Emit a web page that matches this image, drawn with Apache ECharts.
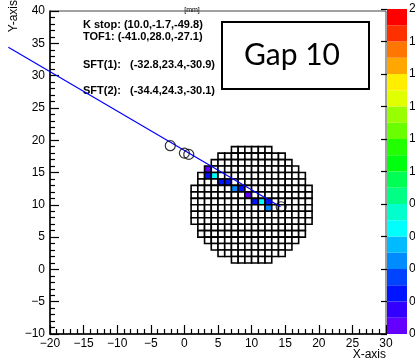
<!DOCTYPE html>
<html>
<head>
<meta charset="utf-8">
<script src="https://cdn.jsdelivr.net/npm/echarts@6/dist/echarts.min.js"></script>
<style>
  html, body { margin: 0; padding: 0; background: #fff; }
  #chart { width: 415px; height: 361px; }
</style>
</head>
<body>
<div id="chart"></div>
<script>
// number of bars in each target row, top row first (256 bars)
var rowCounts = [6, 10, 12, 14, 16, 16, 18, 18, 18, 18, 18, 18, 16, 16, 14, 12, 10, 6];
// hit bars: [column from left, row from top, energy]
var hitBars = [
  [2, 3, 0.05],
  [2, 4, 0.25], [3, 4, 0.65],
  [4, 5, 0.25], [5, 5, 0.25],
  [6, 6, 0.45], [7, 6, 0.25],
  [8, 7, 0.05],
  [9, 8, 0.25], [10, 8, 0.65], [11, 8, 0.25],
  [11, 9, 0.45]
];
// fitted track
var trackLine = [[-26.2, 34.4], [14.3, 9.7]];
// SFT / TOF / K stop markers
var markerPoints = [[-2.1, 19.15], [0.0, 18.0], [0.65, 17.8], [14.4, 9.7]];
// colour scale
var levels = [0, 0.1, 0.2, 0.3, 0.4, 0.5, 0.6, 0.7, 0.8, 0.9, 1.0, 1.1, 1.2, 1.3, 1.4, 1.5, 1.6, 1.7, 1.8, 1.9, 2.0];
var levelColors = ['#6300ff', '#3300ff', '#0014ff', '#0044ff', '#008bff', '#00bbff', '#00fffc', '#00ffcc', '#00ff85', '#00ff55',
                   '#00ff0e', '#22ff00', '#69ff00', '#99ff00', '#e0ff00', '#ffee00', '#ffa700', '#ff7700', '#ff3000', '#ff0000'];

var nCols = 18;
var cells = [];
rowCounts.forEach(function (n, r) {
  var first = (nCols - n) / 2;
  for (var c = first; c < first + n; c++) {
    var e = -1;
    hitBars.forEach(function (h) { if (h[0] === c && h[1] === r) e = h[2]; });
    // lower-left corner of bar in plot units
    cells.push([1 + c, 18 - r, e]);
  }
});
var bands = [];
for (var i = 0; i < levelColors.length; i++) bands.push([levels[i], levels[i + 1]]);

var pieces = bands.map(function (b, i) { return { gte: b[0], lt: b[1], color: levelColors[i] }; });

function minus(v) { return String(v).replace('-', '\u2212'); }

var font = 'Liberation Sans, Arial, sans-serif';
var myChart = echarts.init(document.getElementById('chart'));
var option = {
  animation: false,
  backgroundColor: '#fff',
  textStyle: { fontFamily: font },
  visualMap: {
    show: false,
    type: 'piecewise',
    seriesIndex: 0,
    dimension: 2,
    pieces: pieces,
    outOfRange: { color: '#ffffff' }
  },
  grid: [
    { left: 50, top: 11, width: 336, height: 323, show: true, borderColor: '#444', borderWidth: 1, containLabel: false, outerBoundsMode: 'none' },
    { left: 387, top: 9, width: 20, height: 325, containLabel: false, outerBoundsMode: 'none' }
  ],
  xAxis: [
    {
      gridIndex: 0, type: 'value', min: -20, max: 30, interval: 5,
      axisLine: { onZero: false, lineStyle: { color: '#000', width: 1.5 } },
      axisTick: { inside: true, length: 9, lineStyle: { color: '#000', width: 1.2 } },
      minorTick: { show: true, splitNumber: 5, length: 5, lineStyle: { color: '#000', width: 1.2 } },
      splitLine: { show: false },
      axisLabel: { color: '#000', fontSize: 12, margin: 4, formatter: minus }
    },
    { gridIndex: 1, type: 'value', min: 0, max: 1, show: false }
  ],
  yAxis: [
    {
      gridIndex: 0, type: 'value', min: -10, max: 40, interval: 5,
      axisLine: { onZero: false, lineStyle: { color: '#000', width: 1.5 } },
      axisTick: { inside: true, length: 9, lineStyle: { color: '#000', width: 1.2 } },
      minorTick: { show: true, splitNumber: 5, length: 5, lineStyle: { color: '#000', width: 1.2 } },
      splitLine: { show: false },
      axisLabel: { color: '#000', fontSize: 12, margin: 5, formatter: minus }
    },
    {
      gridIndex: 1, type: 'value', min: 0, max: 2, interval: 0.2, position: 'right',
      axisLine: { show: false },
      axisTick: { inside: true, length: 6, lineStyle: { color: '#000', width: 1.2 } },
      splitLine: { show: false },
      axisLabel: { color: '#000', fontSize: 12, margin: 2, showMinLabel: true, showMaxLabel: true }
    }
  ],
  series: [
    {
      type: 'custom',
      xAxisIndex: 0, yAxisIndex: 0,
      encode: { x: 0, y: 1 },
      data: cells,
      renderItem: function (params, api) {
        var p0 = api.coord([api.value(0), api.value(1) + 1]);
        var p1 = api.coord([api.value(0) + 1, api.value(1)]);
        return {
          type: 'rect',
          shape: { x: p0[0], y: p0[1], width: p1[0] - p0[0], height: p1[1] - p0[1] },
          style: { fill: api.visual('color'), stroke: '#000', lineWidth: 1.6 }
        };
      }
    },
    {
      // track drawn as a custom polyline so it may run past the frame
      type: 'custom',
      xAxisIndex: 0, yAxisIndex: 0,
      encode: { x: 0, y: 1 },
      data: trackLine,
      clip: false,
      renderItem: function (params, api) {
        if (params.dataIndex !== 0) return;
        var pts = trackLine.map(function (p) { return api.coord(p); });
        return {
          type: 'polyline',
          shape: { points: pts },
          style: { stroke: '#0000ff', lineWidth: 1.2, fill: null }
        };
      },
      z: 3
    },
    {
      type: 'scatter',
      xAxisIndex: 0, yAxisIndex: 0,
      data: markerPoints,
      symbol: 'circle',
      symbolSize: 10,
      itemStyle: { color: 'rgba(0,0,0,0)', borderColor: '#000', borderWidth: 1.2 },
      z: 4
    },
    {
      type: 'custom',
      xAxisIndex: 1, yAxisIndex: 1,
      data: bands,
      renderItem: function (params, api) {
        var p0 = api.coord([0, api.value(1)]);
        var p1 = api.coord([1, api.value(0)]);
        return {
          type: 'rect',
          shape: { x: p0[0], y: p0[1], width: p1[0] - p0[0], height: p1[1] - p0[1] },
          style: { fill: levelColors[params.dataIndex], stroke: null }
        };
      },
      z: 1
    }
  ],
  graphic: [
    { type: 'text', left: 83, top: 19, style: { text: 'K stop: (10.0,-1.7,-49.8)', font: 'bold 11px ' + font, fill: '#000' } },
    { type: 'text', left: 83, top: 31, style: { text: 'TOF1: (-41.0,28.0,-27.1)', font: 'bold 11px ' + font, fill: '#000' } },
    { type: 'text', left: 83, top: 59, style: { text: 'SFT(1):', font: 'bold 11px ' + font, fill: '#000' } },
    { type: 'text', left: 130, top: 59, style: { text: '(-32.8,23.4,-30.9)', font: 'bold 11px ' + font, fill: '#000' } },
    { type: 'text', left: 83, top: 85, style: { text: 'SFT(2):', font: 'bold 11px ' + font, fill: '#000' } },
    { type: 'text', left: 130, top: 85, style: { text: '(-34.4,24.3,-30.1)', font: 'bold 11px ' + font, fill: '#000' } },
    { type: 'text', x: 192, y: 10, style: { text: '[mm]', font: '7px ' + font, fill: '#000', align: 'center', verticalAlign: 'middle' } },
    { type: 'rect', shape: { x: 222, y: 22, width: 147, height: 67 }, style: { fill: '#fff', stroke: '#000', lineWidth: 2 } },
    { type: 'text', x: 292, y: 55, style: { text: 'Gap 10', font: '30px Lato, sans-serif', fill: '#000', align: 'center', verticalAlign: 'middle' } },
    { type: 'text', x: 14, y: 0, rotation: Math.PI / 2, style: { text: 'Y-axis', font: '12px ' + font, fill: '#000', align: 'right', verticalAlign: 'middle' } },
    { type: 'text', x: 386, y: 355, style: { text: 'X-axis', font: '12px ' + font, fill: '#000', align: 'right', verticalAlign: 'middle' } }
  ]
};
myChart.setOption(option);
</script>
</body>
</html>
